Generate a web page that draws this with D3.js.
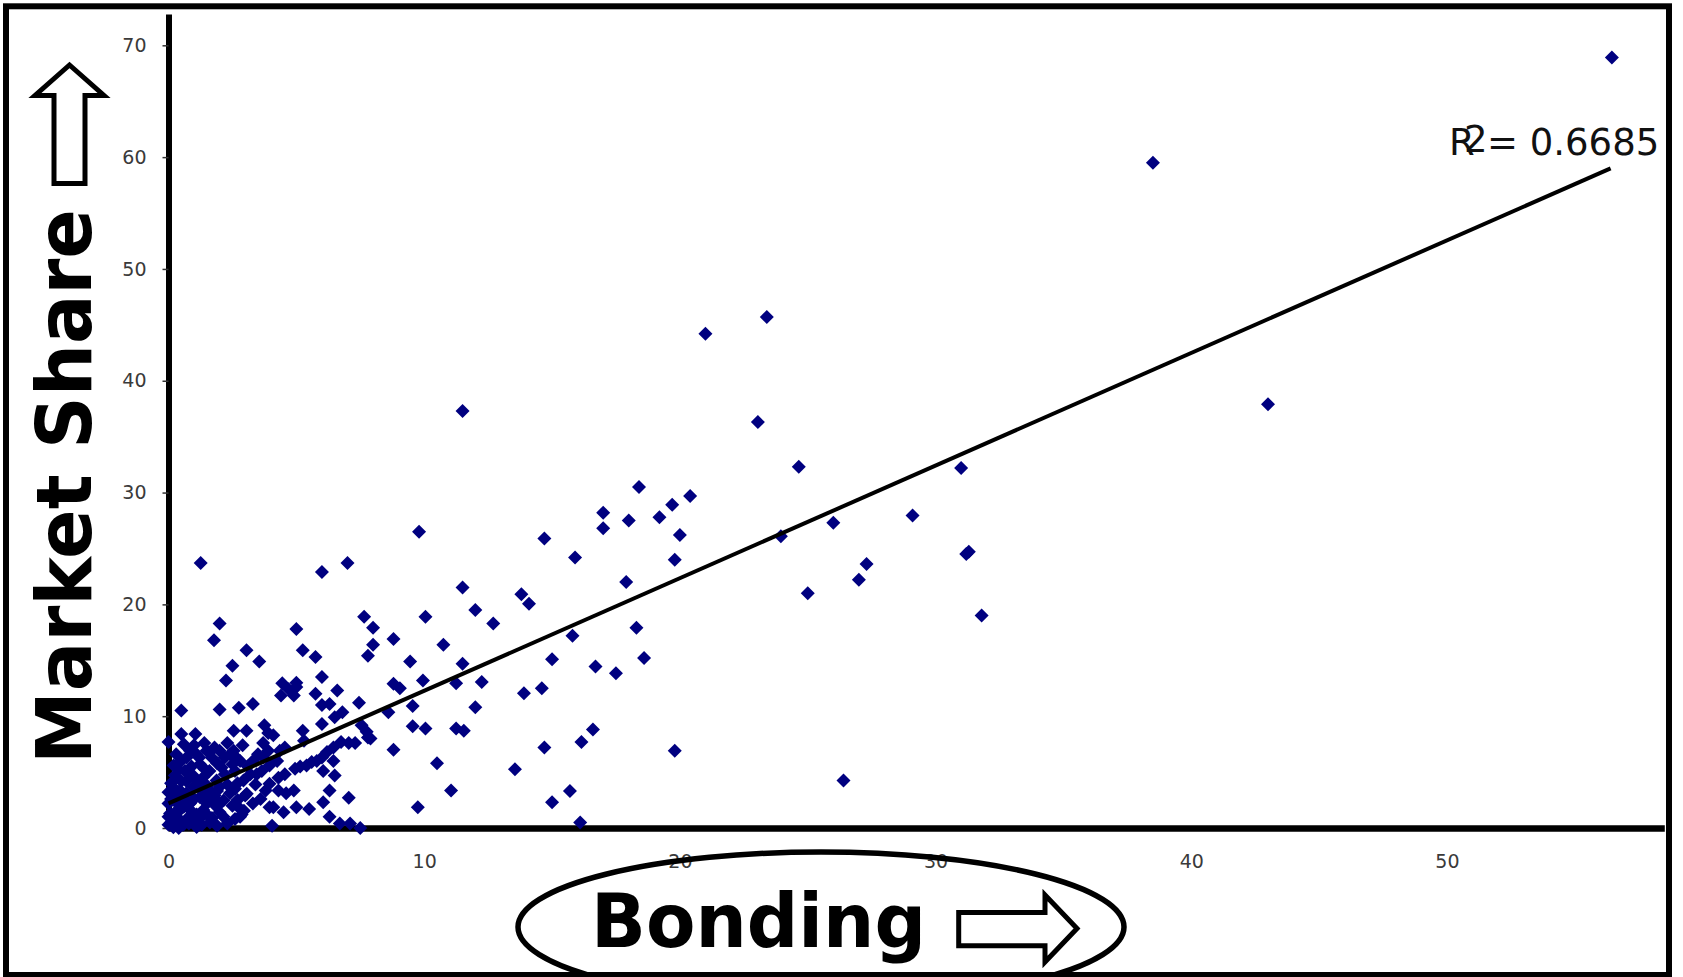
<!DOCTYPE html>
<html lang="en">
<head>
<meta charset="UTF-8">
<title>Market Share vs Bonding</title>
<script src="https://d3js.org/d3.v7.min.js"></script>
<style>
    body { margin: 0; background: #fff; }
    svg { display: block; }
    .tick text { font-family: "DejaVu Sans", Verdana, sans-serif; font-size: 19px; fill: #3a3a3a; }
</style>
</head>
<body>
<svg id="chart" width="1683" height="977"></svg>
<script>
// values
const bonding = [
    56.45, 38.5, 43.0, 23.4, 21.0, 23.05, 11.5, 24.65, 31.0, 29.1,
    26.0, 23.95, 27.3, 27.0, 31.2, 31.3, 25.0, 31.8, 26.4, 18.4,
    20.4, 19.7, 17.0, 18.0, 19.2, 17.0, 20.0, 9.8, 14.7, 15.9,
    19.8, 1.26, 6.0, 7.0, 17.9, 11.5, 12.0, 13.8, 14.1, 12.7,
    15.8, 18.3, 18.6, 15.0, 16.7, 17.5, 12.25, 13.9, 14.6, 12.0,
    16.6, 16.15, 14.7, 19.8, 13.55, 15.7, 15.0, 16.1,
    2.0, 1.78, 5.0, 7.65, 8.0, 8.0, 7.8, 10.05, 8.8, 10.75,
    9.45, 11.5, 3.05, 3.55, 2.5, 5.25, 5.75, 2.25, 6.0, 4.45,
    5.0, 4.4, 4.9, 5.75, 6.6, 8.8, 9.05, 9.95, 11.25, 9.55,
    8.6, 7.45, 6.0, 6.3, 6.8, 6.0, 6.5, 0.5, 2.0, 2.75,
    3.3, 0.5, 1.05, 2.55, 3.05, 3.75, 4.1, 5.25, 5.3, 3.7,
    4.55, 0.0, 7.55, 7.8, 7.05, 7.3, 8.8, 9.55, 10.05, 11.25,
    11.55, 10.5, 11.05, 9.75, 6.75, 6.45, 6.2, 6.0, 5.8, 5.6,
    5.4, 5.15, 4.95, 6.45, 6.05, 6.5, 6.3, 6.05, 7.05, 6.3,
    6.7, 7.1, 7.5, 4.05, 3.95, 4.5, 5.0, 5.5, 3.8, 3.95,
    4.3, 4.55, 4.3, 4.9, 4.6, 4.25, 3.95, 3.65, 3.45, 3.7,
    3.9, 2.95, 2.8, 3.0, 2.55, 2.8, 2.2, 7.75, 7.9, 3.9,
    4.35, 5.0, 4.7,
    0.84, 1.49, 1.69, 1.23, 0.71, 0.65, 0.25, 2.08, 2.41, 2.6,
    2.93, 3.06, 2.8, 2.86, 2.15, 1.62, 1.88, 1.36, 0.97, 0.45,
    0.19, 0.0, 0.06, 0.45, 0.84, 1.23, 1.36, 0.97, 0.19, 0.58,
    1.1, 1.62, 1.88, 2.15, 4.1, 0.1, 0.3, 0.0, 0.1, 0.35,
    0.6, 0.7, 0.9, 1.0, 1.1, 1.3, 1.5, 1.6, 1.8, 2.0,
    2.2, 2.4, 2.5, 2.3, 1.9, 0.8, 0.4, 0.0, 0.0, 1.2,
    2.7, 0.2, 0.5, 1.8, 2.3, 1.0, 2.6, 3.2, 3.3, 3.4,
    3.5, 2.9,
    0.2, 0.5, 0.8, 0.3, 0.6, 0.9, 1.2, 1.5, 1.7, 0.1,
    0.4, 0.7, 1.0, 1.4, 1.7, 2.0, 0.2, 0.5, 0.8, 1.2,
    1.5, 1.9, 2.3, 0.4, 1.4, 1.9, 2.5, 0.3, 1.1, 2.0,
    0.6, 1.4, 2.7, 3.1, 3.3, 2.7, 3.6, 1.3, 2.6, 2.0
];
const marketShare = [
    68.9, 59.5, 37.9, 45.7, 44.2, 36.3, 37.3, 32.3, 32.2, 27.95,
    27.3, 26.1, 23.6, 22.2, 24.5, 24.7, 21.0, 19.0, 4.25, 30.5,
    29.7, 28.9, 28.2, 27.5, 27.8, 26.8, 26.2, 26.5, 25.9, 24.2,
    24.0, 23.7, 22.9, 23.7, 22.0, 21.5, 19.5, 20.9, 20.05, 18.3,
    17.2, 17.9, 15.2, 15.1, 14.45, 13.85, 13.05, 12.05, 12.5, 10.8,
    8.8, 7.7, 7.2, 6.9, 5.25, 3.3, 2.3, 0.5,
    18.3, 16.8, 17.8, 18.9, 17.9, 16.4, 15.4, 18.9, 16.9, 16.4,
    14.9, 14.7, 15.9, 14.9, 14.5, 15.9, 15.3, 13.2, 13.5, 12.95,
    12.6, 11.85, 11.85, 12.0, 12.3, 12.9, 12.5, 13.2, 12.95, 10.9,
    10.35, 11.2, 11.0, 11.1, 10.35, 9.3, 9.9, 10.5, 10.6, 10.75,
    11.1, 8.4, 8.4, 8.7, 8.7, 9.2, 8.3, 8.7, 7.8, 7.6,
    7.2, 7.7, 9.2, 8.1, 7.6, 7.6, 7.0, 9.1, 8.9, 8.9,
    8.7, 5.8, 3.35, 1.85, 7.7, 7.2, 6.8, 6.3, 6.0, 5.9,
    5.6, 5.5, 5.3, 6.0, 5.1, 4.7, 3.35, 2.3, 2.7, 1.0,
    0.4, 0.4, 0.0, 0.2, 1.85, 1.4, 1.85, 1.7, 3.35, 3.95,
    4.5, 4.8, 3.35, 3.35, 3.1, 6.0, 5.6, 5.1, 4.8, 6.3,
    6.9, 1.55, 1.0, 2.9, 6.9, 6.0, 6.3, 8.6, 8.0, 8.5,
    6.9, 13.0, 12.4,
    6.9, 6.9, 6.3, 5.7, 6.3, 5.1, 4.7, 5.4, 6.6, 5.1,
    4.25, 3.06, 1.72, 1.2, 2.46, 3.35, 4.25, 4.55, 3.66, 3.35,
    2.76, 2.2, 1.3, 1.6, 2.2, 2.76, 1.6, 0.67, 0.07, 0.3,
    0.1, 0.5, 1.9, 1.0, 1.86, 0.5, 1.0, 3.2, 4.0, 2.2,
    2.6, 4.2, 5.5, 4.6, 1.2, 3.4, 2.2, 5.1, 2.9, 3.7,
    4.8, 3.1, 2.0, 0.4, 0.2, 1.0, 0.0, 0.3, 1.0, 6.3,
    4.0, 5.6, 6.0, 7.2, 7.6, 7.4, 3.5, 4.8, 2.2, 3.9,
    6.6, 7.4,
    0.8, 0.6, 0.4, 1.5, 1.9, 1.5, 0.8, 1.2, 0.9, 2.6,
    2.9, 3.1, 2.6, 2.8, 2.5, 2.2, 3.6, 4.2, 4.8, 4.0,
    3.8, 3.3, 3.9, 5.2, 5.3, 5.8, 5.7, 6.6, 6.6, 6.9,
    7.5, 7.6, 6.2, 5.5, 6.0, 2.5, 2.6, 0.3, 0.8, 1.4
];
const xTicks = [0, 10, 20, 30, 40, 50];
const yTicks = [0, 10, 20, 30, 40, 50, 60, 70];
// linear trend line end points
const trendX = [0, 56.4];
const trendY = [2.2, 59.0];
const rSquared = "0.6685";

const svg = d3.select("#chart");
const W = 1683, H = 977;

const x = d3.scaleLinear().domain([0, 58.5]).range([168.5, 1664.3]);
const y = d3.scaleLinear().domain([0, 72.8]).range([828, 14]);

svg.append("rect").attr("width", W).attr("height", H).attr("fill", "#fff");

svg.append("defs").append("clipPath").attr("id", "inner")
    .append("rect").attr("x", 9).attr("y", 9).attr("width", 1657).attr("height", 963);

// axes
const yAxis = svg.append("g")
    .attr("transform", `translate(${x(0)},0)`)
    .call(d3.axisLeft(y).tickValues(yTicks).tickSizeInner(6).tickSizeOuter(0).tickPadding(16));
yAxis.select(".domain").attr("stroke", "#000").attr("stroke-width", 6);
yAxis.selectAll(".tick line").attr("stroke", "#333").attr("stroke-width", 1.5);

const xAxis = svg.append("g")
    .attr("transform", `translate(0,${y(0)})`)
    .call(d3.axisBottom(x).tickValues(xTicks).tickSizeInner(0).tickSizeOuter(0).tickPadding(27));
xAxis.select(".domain").attr("stroke", "#000").attr("stroke-width", 6.5);
xAxis.selectAll(".tick line").remove();

// points
const pts = bonding.map((b, i) => ({ b, m: marketShare[i] }));
const r = 7;
svg.append("g").selectAll("path")
    .data(pts)
    .join("path")
    .attr("transform", d => `translate(${x(d.b)},${y(d.m)})`)
    .attr("d", `M0,${-r}L${r},0L0,${r}L${-r},0Z`)
    .attr("fill", "#000080");

// trend line
const line = d3.line().x(d => x(d[0])).y(d => y(d[1]));
svg.append("path")
    .datum(trendX.map((v, i) => [v, trendY[i]]))
    .attr("d", line)
    .attr("fill", "none")
    .attr("stroke", "#000")
    .attr("stroke-width", 4);

// R squared label (the "2" sits over the R, as in the original)
const rt = svg.append("text")
    .attr("y", 155)
    .style("font-family", '"DejaVu Sans", Verdana, sans-serif')
    .style("font-size", "37px")
    .attr("fill", "#111");
rt.append("tspan").attr("x", 1449).text("R");
rt.append("tspan").attr("x", 1464).attr("dy", -3).text("2");
rt.append("tspan").attr("x", 1487).attr("dy", 3).text("= " + rSquared);

// y title with arrow
svg.append("text")
    .attr("transform", "translate(91,486.5) rotate(-90)")
    .attr("text-anchor", "middle")
    .attr("textLength", 555).attr("lengthAdjust", "spacingAndGlyphs")
    .style("font-family", '"DejaVu Sans", Verdana, sans-serif')
    .style("font-weight", "bold")
    .style("font-size", "76px")
    .text("Market Share");

svg.append("path")
    .attr("d", "M54,183.5V95.5H35L69.5,65L104,95.5H85V183.5Z")
    .attr("fill", "#fff").attr("stroke", "#000").attr("stroke-width", 5)
    .attr("stroke-linejoin", "miter");

// x title with arrow and ellipse
svg.append("text")
    .attr("x", 758.5).attr("y", 947)
    .attr("text-anchor", "middle")
    .attr("textLength", 335).attr("lengthAdjust", "spacingAndGlyphs")
    .style("font-family", '"DejaVu Sans", Verdana, sans-serif')
    .style("font-weight", "bold")
    .style("font-size", "74px")
    .text("Bonding");

svg.append("path")
    .attr("d", "M958.7,912.5H1045V895L1077,928.5L1045,962V945.8H958.7Z")
    .attr("fill", "#fff").attr("stroke", "#000").attr("stroke-width", 5);

svg.append("ellipse")
    .attr("clip-path", "url(#inner)")
    .attr("cx", 821).attr("cy", 927).attr("rx", 303).attr("ry", 75)
    .attr("fill", "none").attr("stroke", "#000").attr("stroke-width", 5.5);

// outer frame
svg.append("rect")
    .attr("x", 6).attr("y", 6.3).attr("width", 1663).attr("height", 968.7)
    .attr("fill", "none").attr("stroke", "#000").attr("stroke-width", 6);
</script>
</body>
</html>
